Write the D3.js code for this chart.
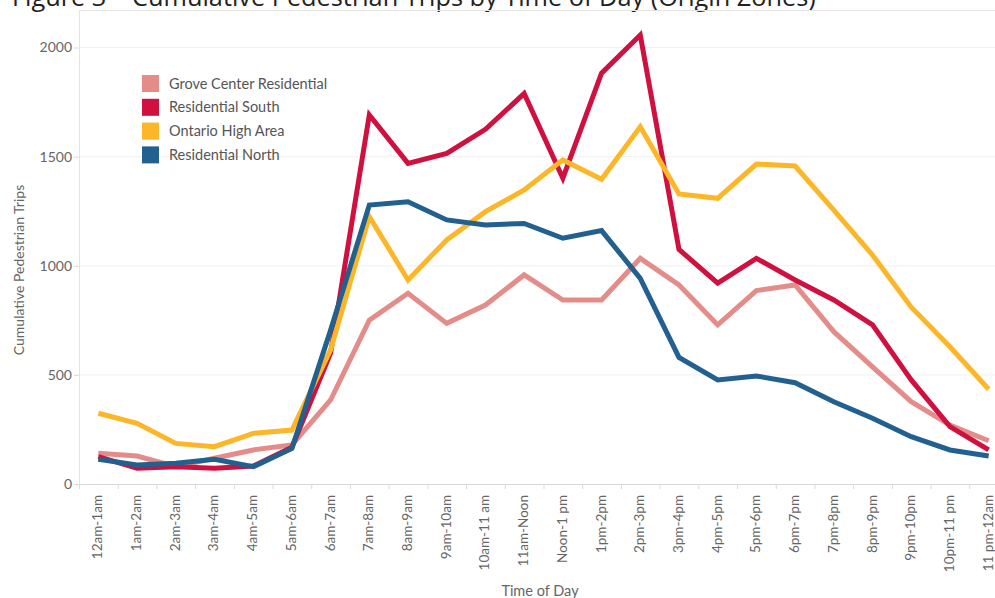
<!DOCTYPE html>
<html>
<head>
<meta charset="utf-8">
<script src="https://cdn.jsdelivr.net/npm/d3@7"></script>
<style>
  body { margin: 0; background: #fff; }
  svg { display: block; }
</style>
</head>
<body>
<div id="chart"></div>
<script>
// Данные графика
const hours = ['12am-1am', '1am-2am', '2am-3am', '3am-4am', '4am-5am', '5am-6am', '6am-7am', '7am-8am',
  '8am-9am', '9am-10am', '10am-11 am', '11am-Noon', 'Noon-1 pm', '1pm-2pm', '2pm-3pm', '3pm-4pm',
  '4pm-5pm', '5pm-6pm', '6pm-7pm', '7pm-8pm', '8pm-9pm', '9pm-10pm', '10pm-11 pm', '11 pm-12am'];

const groveCenter = [141, 128, 79, 118, 156, 179, 385, 751, 874, 736, 820, 958,
  843, 843, 1034, 912, 729, 886, 912, 698, 537, 377, 270, 198];
const resSouth = [125, 72, 79, 72, 82, 168, 600, 1691, 1469, 1515, 1625, 1789,
  1401, 1882, 2057, 1075, 920, 1034, 935, 843, 729, 477, 263, 156];
const ontarioHigh = [324, 278, 186, 171, 232, 247, 615, 1225, 935, 1118, 1248, 1347,
  1485, 1396, 1637, 1329, 1309, 1466, 1457, 1255, 1049, 810, 629, 434];
const resNorth = [113, 87, 95, 113, 79, 163, 705, 1278, 1293, 1210, 1187, 1194,
  1126, 1161, 942, 580, 477, 495, 464, 377, 301, 217, 156, 128];

const seriesNames = ['Grove Center Residential', 'Residential South', 'Ontario High Area', 'Residential North'];
const seriesValues = [groveCenter, resSouth, ontarioHigh, resNorth];
const seriesColors = ['#e48c89', '#d0103f', '#fdb628', '#22608f'];
const yTicks = [0, 500, 1000, 1500, 2000];

const W = 995, H = 598;
const plotLeft = 79, plotTop = 10, plotBottom = 484, plotRight = 1008;

const svg = d3.select('#chart').append('svg')
  .attr('width', W)
  .attr('height', H)
  .style('font-family', 'Lato, sans-serif');

const x = d3.scaleBand().domain(hours).range([plotLeft, plotRight]).padding(0);
const y = d3.scaleLinear().domain([0, 2000]).range([plotBottom, plotBottom - 2000 * 0.21825]);

// Заголовок (обрезан сверху)
svg.append('text')
  .attr('x', 12)
  .attr('y', 6)
  .attr('font-family', '"Open Sans", sans-serif')
  .attr('font-size', 25.3)
  .attr('fill', '#222')
  .text('Figure 3 \u2013 Cumulative Pedestrian Trips by Time of Day (Origin Zones)');

// Сетка
svg.append('g')
  .selectAll('line')
  .data(yTicks.filter(d => d > 0))
  .enter().append('line')
  .attr('x1', plotLeft)
  .attr('x2', W)
  .attr('y1', d => y(d))
  .attr('y2', d => y(d))
  .attr('stroke', '#f0f0f0')
  .attr('stroke-width', 1);

// Рамка сверху и ось Y
svg.append('line')
  .attr('x1', plotLeft).attr('x2', W)
  .attr('y1', plotTop + 0.5).attr('y2', plotTop + 0.5)
  .attr('stroke', '#e4e4e4');
svg.append('line')
  .attr('x1', plotLeft + 0.5).attr('x2', plotLeft + 0.5)
  .attr('y1', plotTop).attr('y2', plotBottom)
  .attr('stroke', '#e4e4e4');

// Ось Y
const yAxis = svg.append('g')
  .attr('transform', `translate(${plotLeft},0)`)
  .call(d3.axisLeft(y).tickValues(yTicks).tickSize(5).tickPadding(2).tickFormat(d3.format('d')));
yAxis.select('.domain').remove();
yAxis.selectAll('line').attr('stroke', '#d9d9d9');
yAxis.selectAll('text')
  .attr('fill', '#666')
  .attr('font-size', 14)
  .attr('font-family', 'Lato, sans-serif');

// Ось X
const xAxis = svg.append('g')
  .attr('transform', `translate(0,${plotBottom})`)
  .call(d3.axisBottom(x).tickSize(0).tickPadding(0));
xAxis.select('.domain')
  .attr('stroke', '#d9d9d9');
xAxis.selectAll('text')
  .attr('fill', '#666')
  .attr('font-size', 13.5)
  .attr('font-family', 'Lato, sans-serif')
  .attr('text-anchor', 'end')
  .attr('dy', null)
  .attr('transform', 'translate(4,11) rotate(-90)');

// Засечки между категориями
svg.append('g')
  .selectAll('line')
  .data(hours)
  .enter().append('line')
  .attr('x1', d => x(d) + 0.5)
  .attr('x2', d => x(d) + 0.5)
  .attr('y1', plotBottom)
  .attr('y2', plotBottom + 5)
  .attr('stroke', '#d9d9d9');

// Подписи осей
svg.append('text')
  .attr('transform', 'translate(24,270) rotate(-90)')
  .attr('text-anchor', 'middle')
  .attr('fill', '#666')
  .attr('font-size', 14)
  .text('Cumulative Pedestrian Trips');

svg.append('text')
  .attr('x', 540)
  .attr('y', 596)
  .attr('text-anchor', 'middle')
  .attr('fill', '#666')
  .attr('font-size', 14.5)
  .text('Time of Day');

// Линии серий
const line = d3.line()
  .x((d, i) => x(hours[i]) + x.bandwidth() / 2)
  .y(d => y(d));

svg.append('g')
  .selectAll('path')
  .data(seriesValues)
  .enter().append('path')
  .attr('d', line)
  .attr('fill', 'none')
  .attr('stroke', (d, i) => seriesColors[i])
  .attr('stroke-width', 5)
  .attr('stroke-linejoin', 'miter')
  .attr('stroke-miterlimit', 3);

// Легенда
const legend = svg.append('g')
  .selectAll('g')
  .data(seriesNames)
  .enter().append('g')
  .attr('transform', (d, i) => `translate(142,${75 + i * 23.8})`);

legend.append('rect')
  .attr('width', 17)
  .attr('height', 17)
  .attr('fill', (d, i) => seriesColors[i]);

legend.append('text')
  .attr('x', 27)
  .attr('y', 13.5)
  .attr('fill', '#555')
  .attr('font-size', 14.5)
  .text(d => d);
</script>
</body>
</html>
